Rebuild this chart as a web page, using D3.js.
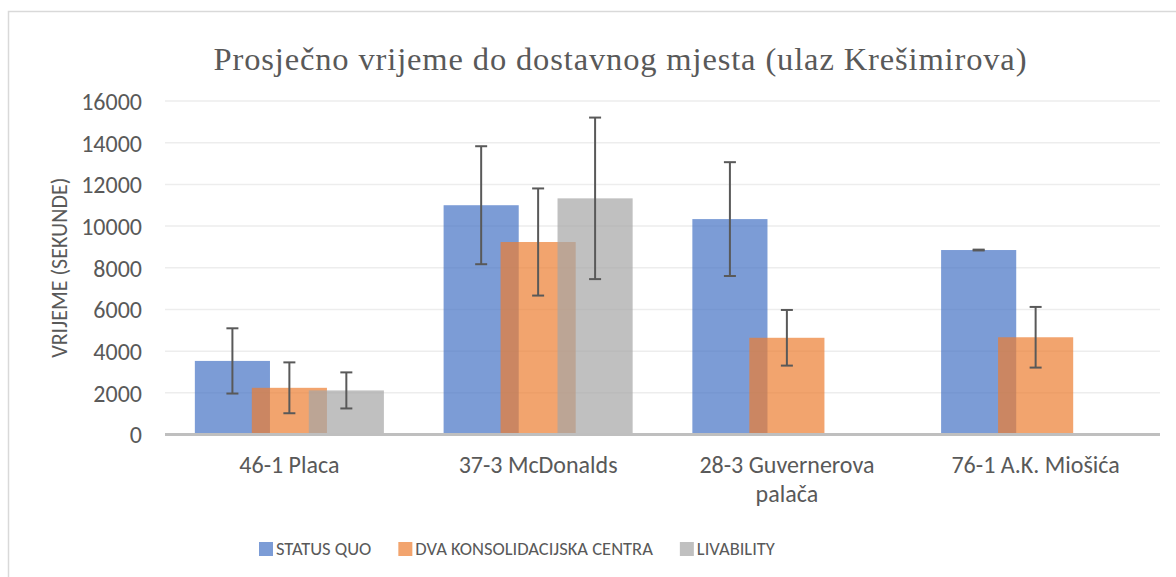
<!DOCTYPE html>
<html>
<head>
<meta charset="utf-8">
<script src="https://cdn.jsdelivr.net/npm/d3@7"></script>
<style>
  html, body { margin: 0; padding: 0; background: #fff; }
  svg { display: block; }
  .sans { font-family: Calibri, Carlito, Lato, "Open Sans", sans-serif; fill: #595959; }
</style>
</head>
<body>
<svg id="chart" width="1176" height="577"></svg>
<script>
// Average travel time to the delivery point, per location and scenario
const categories = ["46-1 Placa", "37-3 McDonalds", "28-3 Guvernerova palača", "76-1 A.K. Miošića"];
const series = ["STATUS QUO", "DVA KONSOLIDACIJSKA CENTRA", "LIVABILITY"];
const statusQuo = [3530, 11000, 10335, 8850];
const dvaCentra = [2240, 9235, 4640, 4665];
const livability = [2115, 11330, null, null];
// half-width of each error bar (± value)
const statusQuoErr = [1565, 2830, 2730, 20];
const dvaCentraErr = [1220, 2570, 1335, 1455];
const livabilityErr = [865, 3875, null, null];
const yTicks = [0, 2000, 4000, 6000, 8000, 10000, 12000, 14000, 16000];
const title = "Prosječno vrijeme do dostavnog mjesta (ulaz Krešimirova)";
const yTitle = "VRIJEME (SEKUNDE)";

const colors = ["#4472C4", "#ED7D31", "#A5A5A5"];
const values = [statusQuo, dvaCentra, livability];
const errors = [statusQuoErr, dvaCentraErr, livabilityErr];

const svg = d3.select("#chart");

// chart area frame
svg.append("rect")
  .attr("x", 8.5).attr("y", 11.5)
  .attr("width", 1200).attr("height", 600)
  .attr("fill", "none").attr("stroke", "#D9D9D9").attr("stroke-width", 1.5);

const plot = { left: 165, right: 1160, top: 101, bottom: 434.5 };

const x = d3.scaleBand().domain(categories).range([plot.left, plot.right]).padding(0);
const bw = x.bandwidth();
const xs = d3.scalePoint().domain(series).range([-0.229 * bw, 0.229 * bw]);
const barW = 0.302 * bw;
const y = d3.scaleLinear().domain([0, 16000]).range([plot.bottom, plot.top]);

// horizontal gridlines
svg.append("g")
  .selectAll("line")
  .data(yTicks.filter(t => t > 0))
  .join("line")
  .attr("x1", plot.left).attr("x2", plot.right)
  .attr("y1", d => y(d)).attr("y2", d => y(d))
  .attr("stroke", "#EDEDED").attr("stroke-width", 1.5);

// y axis tick labels
const yAxis = d3.axisLeft(y).tickValues(yTicks).tickSize(0).tickPadding(0).tickFormat(d3.format("d"));
const yg = svg.append("g").attr("transform", `translate(${plot.left - 23},0)`).call(yAxis);
yg.select(".domain").remove();
yg.selectAll("text")
  .attr("class", "sans")
  .style("font-size", "24px")
  .attr("dy", "0.35em");

// bars
series.forEach((s, i) => {
  const rows = categories.map((c, j) => ({ c, v: values[i][j], e: errors[i][j] })).filter(d => d.v != null);
  svg.append("g")
    .selectAll("rect")
    .data(rows)
    .join("rect")
    .attr("x", d => x(d.c) + bw / 2 + xs(s) - barW / 2)
    .attr("width", barW)
    .attr("y", d => y(d.v))
    .attr("height", d => y(0) - y(d.v))
    .attr("fill", colors[i])
    .attr("fill-opacity", 0.7);
});

// error bars
series.forEach((s, i) => {
  const rows = categories.map((c, j) => ({ c, v: values[i][j], e: errors[i][j] })).filter(d => d.v != null);
  const g = svg.append("g").attr("stroke", "#595959").attr("stroke-width", 2);
  const cx = d => x(d.c) + bw / 2 + xs(s);
  g.selectAll("line.stem").data(rows).join("line").attr("class", "stem")
    .attr("x1", cx).attr("x2", cx)
    .attr("y1", d => y(d.v + d.e)).attr("y2", d => y(d.v - d.e));
  g.selectAll("line.top").data(rows).join("line").attr("class", "top")
    .attr("x1", d => cx(d) - 6).attr("x2", d => cx(d) + 6)
    .attr("y1", d => y(d.v + d.e)).attr("y2", d => y(d.v + d.e));
  g.selectAll("line.bot").data(rows).join("line").attr("class", "bot")
    .attr("x1", d => cx(d) - 6).attr("x2", d => cx(d) + 6)
    .attr("y1", d => y(d.v - d.e)).attr("y2", d => y(d.v - d.e));
});

// baseline
svg.append("line")
  .attr("x1", plot.left).attr("x2", plot.right)
  .attr("y1", y(0)).attr("y2", y(0))
  .attr("stroke", "#BFBFBF").attr("stroke-width", 3);

// category labels, wrapped to the band width
const xg = svg.append("g");
categories.forEach(c => {
  const cx = x(c) + bw / 2;
  const t = xg.append("text")
    .attr("class", "sans")
    .attr("text-anchor", "middle")
    .style("font-size", "24px")
    .attr("x", cx)
    .attr("y", 473);
  const words = c.split(" ");
  let line = [];
  let tspan = t.append("tspan").attr("x", cx).attr("dy", 0);
  words.forEach(w => {
    line.push(w);
    tspan.text(line.join(" "));
    if (tspan.node().getComputedTextLength() > bw - 20 && line.length > 1) {
      line.pop();
      tspan.text(line.join(" "));
      line = [w];
      tspan = t.append("tspan").attr("x", cx).attr("dy", 29).text(w);
    }
  });
});

// y axis title
svg.append("text")
  .attr("class", "sans")
  .attr("text-anchor", "middle")
  .style("font-size", "22px")
  .attr("transform", `translate(67,${(plot.top + plot.bottom) / 2}) rotate(-90)`)
  .text(yTitle);

// chart title
svg.append("text")
  .attr("x", 620)
  .attr("y", 70)
  .attr("text-anchor", "middle")
  .attr("textLength", 813)
  .attr("lengthAdjust", "spacing")
  .style("font-family", "'Times New Roman', 'Liberation Serif', serif")
  .style("font-size", "32.5px")
  .attr("fill", "#595959")
  .text(title);

// legend
const legend = svg.append("g").attr("transform", "translate(259,549)");
let lx = 0;
series.forEach((s, i) => {
  const item = legend.append("g").attr("transform", `translate(${lx},0)`);
  item.append("rect").attr("x", 0).attr("y", -7).attr("width", 14).attr("height", 14)
    .attr("fill", colors[i]).attr("fill-opacity", 0.7);
  const t = item.append("text").attr("class", "sans")
    .attr("x", 17).attr("dy", "0.35em")
    .style("font-size", "18.5px")
    .text(s);
  lx += 17 + t.node().getComputedTextLength() + 27;
});
</script>
</body>
</html>
